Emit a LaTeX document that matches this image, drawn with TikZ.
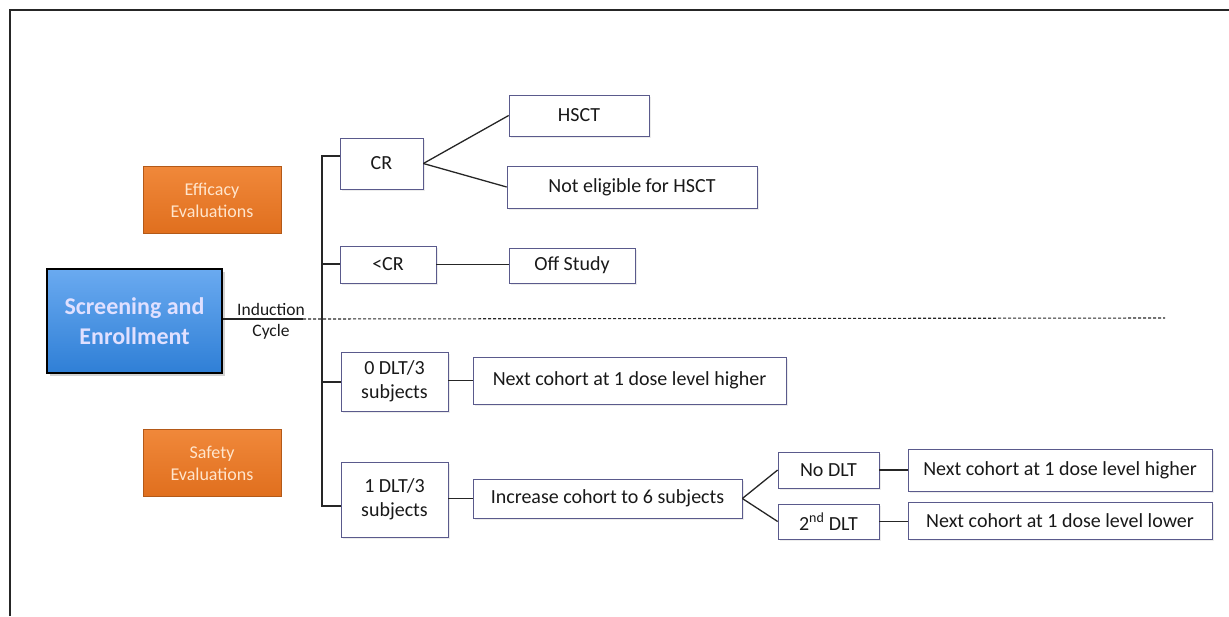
\documentclass[tikz,border=0pt]{standalone}
\usepackage{fontspec}
\setmainfont{Carlito}
\usetikzlibrary{shadows}
\definecolor{boxc}{HTML}{5A5A8C}
\definecolor{orangeA}{HTML}{F0883A}
\definecolor{orangeB}{HTML}{E06F1E}
\definecolor{blueA}{HTML}{6AAAF0}
\definecolor{blueB}{HTML}{2F7FD6}
\tikzset{
  box/.style={draw=boxc, line width=0.7pt, fill=white, inner sep=0pt, align=center,
    font=\fontsize{20}{24}\selectfont, text=black!90,
    drop shadow={opacity=0.15, shadow xshift=1.5pt, shadow yshift=-1.5pt}},
  evalbox/.style={draw=orangeB!80!black, line width=0.5pt, top color=orangeA, bottom color=orangeB,
    inner sep=0pt, align=center, text=white!80!orange, font=\fontsize{18}{22}\selectfont,
    minimum width=138, minimum height=67},
  startbox/.style={draw=black, line width=1.6pt, top color=blueA, bottom color=blueB,
    inner sep=0pt, align=center, text=white!88!blue, font=\bfseries\fontsize{24}{30}\selectfont,
    minimum width=175, minimum height=104,
    drop shadow={opacity=0.35, shadow xshift=3pt, shadow yshift=-3pt}},
  conn/.style={draw=black!85, line width=1.3pt},
  frame/.style={draw=black!85, line width=1.8pt}
}
\begin{document}
\begin{tikzpicture}[x=1pt,y=-1pt]
\useasboundingbox (0,0) rectangle (1229,616);
\draw[frame] (10,616) -- (10,10) -- (1229,10);

% left column
\node[evalbox] (eff) at (212,200) {Efficacy\\Evaluations};
\node[evalbox] (saf) at (212,463) {Safety\\Evaluations};
\node[startbox] (start) at (134.5,321) {Screening and\\Enrollment};

% induction line
\coordinate (solidend) at (303,319);
\coordinate (dashend) at (1165,318);
\draw[conn, line width=1.1pt] (start.east |- solidend) -- (solidend);
\draw[conn, line width=1.1pt, dash pattern=on 3pt off 2pt] (solidend) -- (dashend);
\node[font=\fontsize{17.5}{20}\selectfont, align=center, text=black!90] (ind) at (271,321) {Induction\\[1pt]Cycle};

% level-1 boxes
\node[box, minimum width=83, minimum height=51] (cr) at (381.5,163.5) {CR};
\node[box, minimum width=96, minimum height=37] (lcr) at (388,264.5) {<CR};
\node[box, minimum width=107, minimum height=59] (d0) at (394.5,381.5) {0 DLT/3\\subjects};
\node[box, minimum width=107, minimum height=75] (d1) at (394.5,499.5) {1 DLT/3\\subjects};

% bus
\coordinate (b1) at (322,156);
\coordinate (b2) at (322,264);
\coordinate (b3) at (322,382);
\coordinate (b4) at (322,506);
\draw[conn] (b1 -| cr.west) -- (b1) -- (b4) -- (b4 -| d1.west);
\draw[conn] (b2) -- (b2 -| lcr.west);
\draw[conn] (b3) -- (b3 -| d0.west);

% CR branch
\node[box, minimum width=140, minimum height=41] (hsct) at (579,115.5) {HSCT};
\node[box, minimum width=250, minimum height=42] (ne) at (632,187) {Not eligible for HSCT};
\draw[conn] (cr.east) -- (hsct.west);
\draw[conn] (cr.east) -- (ne.west);

% <CR branch
\node[box, minimum width=126, minimum height=35] (off) at (572,265.5) {Off Study};
\draw[conn] (lcr.east) -- (off.west |- lcr.east);

% 0 DLT branch
\node[box, minimum width=313, minimum height=47] (nh1) at (629.5,380.5) {Next cohort at 1 dose level higher};
\draw[conn] (d0.east |- nh1.west) -- (nh1.west);

% 1 DLT branch
\node[box, minimum width=269, minimum height=39] (inc) at (607.5,498.5) {Increase cohort to 6 subjects};
\draw[conn] (d1.east |- inc.west) -- (inc.west);
\node[box, minimum width=101, minimum height=36] (nodlt) at (828.5,470) {No DLT};
\node[box, minimum width=101, minimum height=35] (dlt2) at (828.5,521.5) {2\textsuperscript{nd} DLT};
\draw[conn] (inc.east) -- (nodlt.west);
\draw[conn] (inc.east) -- (dlt2.west);
\node[box, minimum width=304, minimum height=42] (nh2) at (1060,470) {Next cohort at 1 dose level higher};
\node[box, minimum width=304, minimum height=37] (nl) at (1060,520.5) {Next cohort at 1 dose level lower};
\draw[conn] (nodlt.east) -- (nh2.west);
\draw[conn] (dlt2.east) -- (nl.west |- dlt2.east);
\end{tikzpicture}
\end{document}
